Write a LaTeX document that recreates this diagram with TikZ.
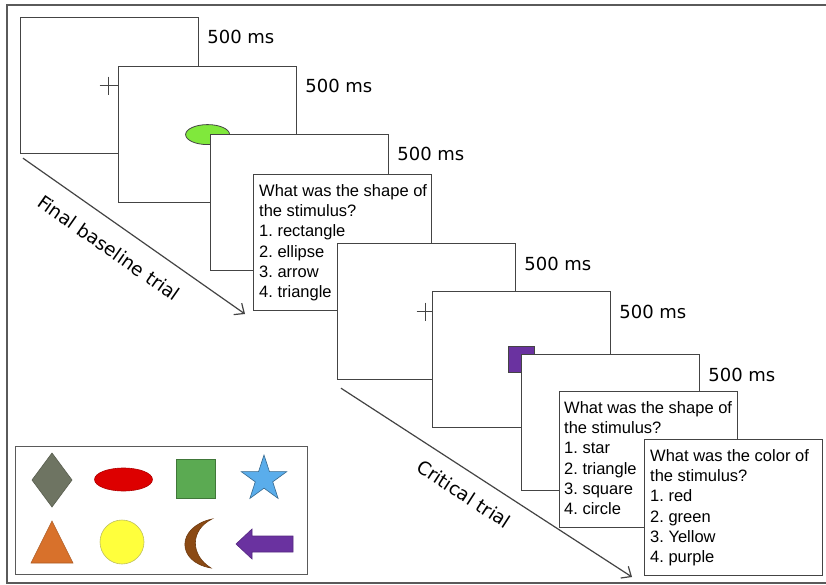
\documentclass[tikz,border=0pt]{standalone}
\usepackage{fontspec}
\setmainfont{Liberation Sans}
\newfontfamily\labfont{DejaVu Sans}
\usetikzlibrary{arrows.meta,shapes.geometric}
\definecolor{linegray}{HTML}{444444}
\definecolor{framegray}{HTML}{5A5A5A}
\definecolor{stimgreen}{HTML}{80E83C}
\definecolor{stimpurple}{HTML}{6A32A0}
\definecolor{dgray}{HTML}{6E7462}
\definecolor{sred}{HTML}{DD0000}
\definecolor{sgreen}{HTML}{5BAA52}
\definecolor{sblue}{HTML}{5AADEB}
\definecolor{sorange}{HTML}{D8712B}
\definecolor{syellow}{HTML}{FFFF3C}
\definecolor{sbrown}{HTML}{8B4A14}
\frenchspacing
\begin{document}
\begin{tikzpicture}[x=1pt,y=-1pt,
  screen/.style={draw=linegray, line width=1.2pt, fill=white, minimum width=178pt, minimum height=136pt, anchor=north west, inner sep=0pt},
  qtext/.style={anchor=north west, align=left, inner sep=0pt, font=\fontsize{16.5}{20.3}\selectfont},
  dur/.style={anchor=base west, inner sep=0pt, font=\labfont\fontsize{18}{20}\selectfont},
  trialarrow/.style={draw=linegray, line width=1.2pt, -{Straight Barb[length=8pt,width=14pt]}},
  triallabel/.style={font=\labfont\fontsize{18.5}{20}\selectfont, inner sep=0pt},
  fixcross/.style={draw=linegray, line width=0.9pt},
  legshape/.style={line width=0.6pt}
]
\useasboundingbox (0,0) rectangle (826,585);
\fill[white] (0,0) rectangle (826,585);
% outer frame
\draw[framegray, line width=1.6pt] (826,5) -- (7,5) -- (7,583) -- (826,583);

% final baseline trial
\node[screen] (s1) at (20,17) {};
\draw[fixcross] (s1.center) ++(-10,0) -- ++(20,0);
\draw[fixcross] (s1.center) ++(-1,-9) -- ++(0,18);
\node[screen] (s2) at (118,66) {};
\node[ellipse, draw=linegray, line width=0.8pt, fill=stimgreen, minimum width=44pt, minimum height=20pt, inner sep=0pt] (stim1) at (s2.center) {};
\node[screen] (s3) at (210,134) {};
\node[screen] (q1) at (253,174) {};
\node[qtext] (q1t) at ([shift={(6pt,-10pt)}]q1.north west) {What was the shape of\\the stimulus?\\1. rectangle\\2. ellipse\\3. arrow\\4. triangle};

% critical trial
\node[screen] (s4) at (337,243) {};
\draw[fixcross] (s4.center) ++(-10,0) -- ++(20,0);
\draw[fixcross] (s4.center) ++(-1,-9) -- ++(0,18);
\node[screen] (s5) at (432,291) {};
\node[draw=linegray, line width=0.8pt, fill=stimpurple, minimum size=26pt, inner sep=0pt] (stim2) at (s5.center) {};
\node[screen] (s6) at (521,354) {};
\node[screen] (q2) at (559,391) {};
\node[qtext] (q2t) at ([shift={(5pt,-10pt)}]q2.north west) {What was the shape of\\the stimulus?\\1. star\\2. triangle\\3. square\\4. circle};
\node[screen] (q3) at (644,439) {};
\node[qtext] (q3t) at ([shift={(6pt,-10pt)}]q3.north west) {What was the color of\\the stimulus?\\1. red\\2. green\\3. Yellow\\4. purple};

% durations
\foreach \s in {s1,s2,s3,s4,s5,s6}
  \node[dur] (d\s) at ([shift={(8pt,-27pt)}]\s.north east) {500 ms};

% trial arrows
\coordinate (a1) at (245,314);
\draw[trialarrow] ([shift={(3pt,-4pt)}]s1.south west) -- (a1);
\node[triallabel, rotate=-35] (l1) at (109,248) {Final baseline trial};
\coordinate (a2) at (632,577);
\draw[trialarrow] ([shift={(4pt,-8pt)}]s4.south west) -- (a2);
\node[triallabel, rotate=-33] (l2) at (464,494) {Critical trial};

% legend
\node[draw=framegray, line width=1.2pt, minimum width=292pt, minimum height=128pt, anchor=north west, inner sep=0pt] (legend) at (15,446) {};
\filldraw[legshape, fill=dgray, draw=dgray!80!black] (52,453) -- (72,480) -- (52,507) -- (32,480) -- cycle;
\filldraw[legshape, fill=sred, draw=sred!80!black] (123.5,479.5) ellipse [x radius=29, y radius=11.5];
\filldraw[legshape, fill=sgreen, draw=sgreen!70!black] (176,459) rectangle (215,498);
\begin{scope}[shift={(264,479)}]
\filldraw[legshape, fill=sblue, draw=sblue!60!black] (-90:24) -- (-54:9.2) -- (-18:24) -- (18:9.2) -- (54:24) -- (90:9.2) -- (126:24) -- (162:9.2) -- (198:24) -- (234:9.2) -- cycle;
\end{scope}
\filldraw[legshape, fill=sorange, draw=sorange!80!black] (31,563) -- (73,563) -- (52,521) -- cycle;
\filldraw[legshape, fill=syellow, draw=syellow!50!gray] (122,542) circle [radius=22];
\filldraw[legshape, fill=sbrown, draw=sbrown!80!black] (212,519) .. controls (176,527) and (176,562) .. (211,568) .. controls (190,555) and (190,530) .. (212,519) -- cycle;
\filldraw[legshape, fill=stimpurple, draw=stimpurple!80!black] (236,544) -- (252,529) -- (252,536) -- (293,536) -- (293,552) -- (252,552) -- (252,559) -- cycle;
\end{tikzpicture}
\end{document}
